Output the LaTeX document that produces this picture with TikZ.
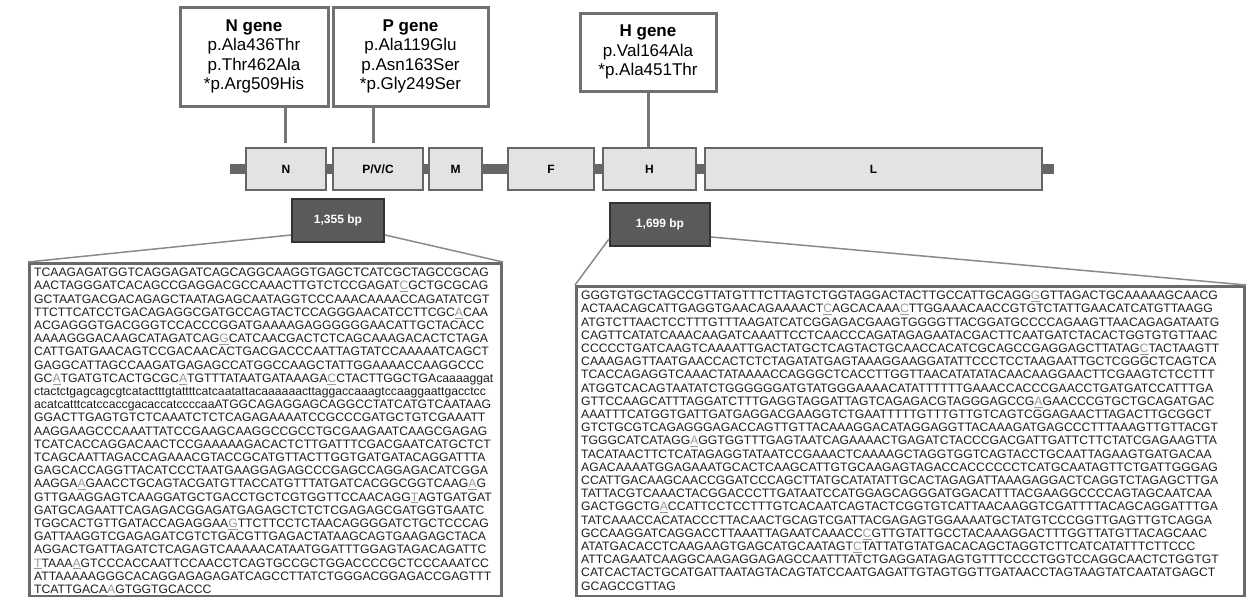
\documentclass[tikz,border=0pt]{standalone}
\usepackage{fontspec}
\setmainfont{Liberation Sans}
\definecolor{bordc}{HTML}{707070}
\definecolor{segbord}{HTML}{666666}
\definecolor{segfill}{HTML}{E3E3E3}
\definecolor{bpfill}{HTML}{5A5A5A}
\definecolor{bpbord}{HTML}{333333}
\definecolor{stemc}{HTML}{777777}
\definecolor{linkc}{HTML}{8A8A8A}
\definecolor{seqbord}{HTML}{6A6A6A}
\definecolor{seqc}{HTML}{1E1E1E}
\definecolor{mutc}{HTML}{9A9A9A}
\newcommand{\mk}[1]{\textcolor{mutc}{\underline{#1}}}
\tikzset{
 mutbox/.style={draw=bordc, line width=3pt, fill=white, align=center, inner sep=0pt, font=\fontsize{17}{19.6}\selectfont},
 seg/.style={draw=segbord, line width=2pt, fill=segfill, inner sep=0pt, minimum height=42pt, font=\bfseries\fontsize{12}{14}\selectfont},
 bpbox/.style={draw=bpbord, line width=2pt, fill=bpfill, text=white, inner sep=0pt, font=\bfseries\fontsize{12}{14}\selectfont},
 stem/.style={draw=stemc, line width=3pt},
 link/.style={draw=linkc, line width=1.5pt},
 seqbox/.style={draw=seqbord, line width=3pt, fill=white, inner sep=0pt},
 seqtext/.style={align=left, inner sep=0pt, text=seqc, font=\fontsize{12.2}{13.2}\selectfont},
}
\begin{document}
\begin{tikzpicture}[x=1pt,y=-1pt]
\useasboundingbox (0,0) rectangle (1248,597);
% backbone
\coordinate (bbL) at (230,169);
\coordinate (bbR) at (1054,169);
\draw[segbord, line width=10pt] (bbL) -- (bbR);
% genome segments
\node[seg, minimum width=80pt] (gN) at (286,169) {N};
\node[seg, minimum width=90pt] (gP) at (378,169) {P/V/C};
\node[seg, minimum width=53pt] (gM) at (455.5,169) {M};
\node[seg, minimum width=86pt] (gF) at (551,169) {F};
\node[seg, minimum width=93pt] (gH) at (649.5,169) {H};
\node[seg, minimum width=337pt] (gL) at (873.5,169) {L};
% mutation boxes
\node[mutbox, minimum width=148pt, minimum height=99pt] (mN) at (254,56.5) {\textbf{N gene}\\p.Ala436Thr\\p.Thr462Ala\\*p.Arg509His};
\node[mutbox, minimum width=155pt, minimum height=99pt] (mP) at (410.5,56.5) {\textbf{P gene}\\p.Ala119Glu\\p.Asn163Ser\\*p.Gly249Ser};
\node[mutbox, minimum width=136pt, minimum height=78pt] (mH) at (648,52) {\textbf{H gene}\\p.Val164Ala\\*p.Ala451Thr};
% stems
\draw[stem] ([xshift=-1pt]gN.north |- mN.south) -- ([xshift=-1pt,yshift=4pt]gN.north);
\draw[stem] ([xshift=-5pt]gP.north |- mP.south) -- ([xshift=-5pt,yshift=4pt]gP.north);
\draw[stem] (mH.south) -- (mH.south |- gH.north) ;
% bp boxes
\node[bpbox, minimum width=92pt, minimum height=43pt] (bp1) at (338,220.5) {1,355 bp};
\node[bpbox, minimum width=100pt, minimum height=43pt] (bp2) at (660,224.5) {1,699 bp};
% sequence boxes
\node[seqbox, anchor=north west, minimum width=472pt, minimum height=333pt] (lbox) at (28,262) {};
\node[seqbox, anchor=north west, minimum width=668pt, minimum height=310pt] (rbox) at (575,285) {};
\draw[link] ([yshift=8pt]bp1.south west) -- (lbox.north west);
\draw[link] ([yshift=8pt]bp1.south east) -- (lbox.north east);
\draw[link] ([yshift=8pt]bp2.south west) -- (rbox.north west);
\draw[link] ([yshift=10pt]bp2.south east) -- (rbox.north east);
\node[seqtext, anchor=north west] (ltext) at ([xshift=6pt,yshift=-6pt]lbox.north west) {%
TCAAGAGATGGTCAGGAGATCAGCAGGCAAGGTGAGCTCATCGCTAGCCGCAG\\
AACTAGGGATCACAGCCGAGGACGCCAAACTTGTCTCCGAGAT\mk{C}GCTGCGCAG\\
GCTAATGACGACAGAGCTAATAGAGCAATAGGTCCCAAACAAAACCAGATATCGT\\
TTCTTCATCCTGACAGAGGCGATGCCAGTACTCCAGGGAACATCCTTCGC\mk{A}CAA\\
ACGAGGGTGACGGGTCCACCCGGATGAAAAGAGGGGGGAACATTGCTACACC\\
AAAAGGGACAAGCATAGATCAG\mk{G}CATCAACGACTCTCAGCAAAGACACTCTAGA\\
CATTGATGAACAGTCCGACAACACTGACGACCCAATTAGTATCCAAAAATCAGCT\\
GAGGCATTAGCCAAGATGAGAGCCATGGCCAAGCTATTGGAAAACCAAGGCCC\\
GC\mk{A}TGATGTCACTGCGC\mk{A}TGTTTATAATGATAAAGA\mk{C}CTACTTGGCTGAcaaaaggat\\
ctactctgagcagcgtcatactttgtattttcatcaatattacaaaaaacttaggaccaaagtccaaggaattgacctcc\\
acatcatttcatccaccgacaccatccccaaATGGCAGAGGAGCAGGCCTATCATGTCAATAAG\\
GGACTTGAGTGTCTCAAATCTCTCAGAGAAAATCCGCCCGATGCTGTCGAAATT\\
AAGGAAGCCCAAATTATCCGAAGCAAGGCCGCCTGCGAAGAATCAAGCGAGAG\\
TCATCACCAGGACAACTCCGAAAAAGACACTCTTGATTTCGACGAATCATGCTCT\\
TCAGCAATTAGACCAGAAACGTACCGCATGTTACTTGGTGATGATACAGGATTTA\\
GAGCACCAGGTTACATCCCTAATGAAGGAGAGCCCGAGCCAGGAGACATCGGA\\
AAGGA\mk{A}GAACCTGCAGTACGATGTTACCATGTTTATGATCACGGCGGTCAAG\mk{A}G\\
GTTGAAGGAGTCAAGGATGCTGACCTGCTCGTGGTTCCAACAGG\mk{T}AGTGATGAT\\
GATGCAGAATTCAGAGACGGAGATGAGAGCTCTCTCGAGAGCGATGGTGAATC\\
TGGCACTGTTGATACCAGAGGAA\mk{G}TTCTTCCTCTAACAGGGGATCTGCTCCCAG\\
GATTAAGGTCGAGAGATCGTCTGACGTTGAGACTATAAGCAGTGAAGAGCTACA\\
AGGACTGATTAGATCTCAGAGTCAAAAACATAATGGATTTGGAGTAGACAGATTC\\
\mk{T}TAAA\mk{A}GTCCCACCAATTCCAACCTCAGTGCCGCTGGACCCCGCTCCCAAATCC\\
ATTAAAAAGGGCACAGGAGAGAGATCAGCCTTATCTGGGACGGAGACCGAGTTT\\
TCATTGACA\mk{A}GTGGTGCACCC};
\node[seqtext, anchor=north west] (rtext) at ([xshift=6pt,yshift=-6pt]rbox.north west) {%
GGGTGTGCTAGCCGTTATGTTTCTTAGTCTGGTAGGACTACTTGCCATTGCAGG\mk{G}GTTAGACTGCAAAAAGCAACG\\
ACTAACAGCATTGAGGTGAACAGAAAACT\mk{C}AGCACAAA\mk{C}TTGGAAACAACCGTGTCTATTGAACATCATGTTAAGG\\
ATGTCTTAACTCCTTTGTTTAAGATCATCGGAGACGAAGTGGGGTTACGGATGCCCCAGAAGTTAACAGAGATAATG\\
CAGTTCATATCAAACAAGATCAAATTCCTCAACCCAGATAGAGAATACGACTTCAATGATCTACACTGGTGTGTTAAC\\
CCCCCTGATCAAGTCAAAATTGACTATGCTCAGTACTGCAACCACATCGCAGCCGAGGAGCTTATAG\mk{C}TACTAAGTT\\
CAAAGAGTTAATGAACCACTCTCTAGATATGAGTAAAGGAAGGATATTCCCTCCTAAGAATTGCTCGGGCTCAGTCA\\
TCACCAGAGGTCAAACTATAAAACCAGGGCTCACCTTGGTTAACATATATACAACAAGGAACTTCGAAGTCTCCTTT\\
ATGGTCACAGTAATATCTGGGGGGATGTATGGGAAAACATATTTTTTGAAACCACCCGAACCTGATGATCCATTTGA\\
GTTCCAAGCATTTAGGATCTTTGAGGTAGGATTAGTCAGAGACGTAGGGAGCCG\mk{A}GAACCCGTGCTGCAGATGAC\\
AAATTTCATGGTGATTGATGAGGACGAAGGTCTGAATTTTTGTTTGTTGTCAGTCGGAGAACTTAGACTTGCGGCT\\
GTCTGCGTCAGAGGGAGACCAGTTGTTACAAAGGACATAGGAGGTTACAAAGATGAGCCCTTTAAAGTTGTTACGT\\
TGGGCATCATAGG\mk{A}GGTGGTTTGAGTAATCAGAAAACTGAGATCTACCCGACGATTGATTCTTCTATCGAGAAGTTA\\
TACATAACTTCTCATAGAGGTATAATCCGAAACTCAAAAGCTAGGTGGTCAGTACCTGCAATTAGAAGTGATGACAA\\
AGACAAAATGGAGAAATGCACTCAAGCATTGTGCAAGAGTAGACCACCCCCCTCATGCAATAGTTCTGATTGGGAG\\
CCATTGACAAGCAACCGGATCCCAGCTTATGCATATATTGCACTAGAGATTAAAGAGGACTCAGGTCTAGAGCTTGA\\
TATTACGTCAAACTACGGACCCTTGATAATCCATGGAGCAGGGATGGACATTTACGAAGGCCCCAGTAGCAATCAA\\
GACTGGCTG\mk{A}CCATTCCTCCTTTGTCACAATCAGTACTCGGTGTCATTAACAAGGTCGATTTTACAGCAGGATTTGA\\
TATCAAACCACATACCCTTACAACTGCAGTCGATTACGAGAGTGGAAAATGCTATGTCCCGGTTGAGTTGTCAGGA\\
GCCAAGGATCAGGACCTTAAATTAGAATCAAACC\mk{C}GTTGTATTGCCTACAAAGGACTTTGGTTATGTTACAGCAAC\\
ATATGACACCTCAAGAAGTGAGCATGCAATAGT\mk{C}TATTATGTATGACACAGCTAGGTCTTCATCATATTTCTTCCC\\
ATTCAGAATCAAGGCAAGAGGAGAGCCAATTTATCTGAGGATAGAGTGTTTCCCCTGGTCCAGGCAACTCTGGTGT\\
CATCACTACTGCATGATTAATAGTACAGTATCCAATGAGATTGTAGTGGTTGATAACCTAGTAAGTATCAATATGAGCT\\
GCAGCCGTTAG};
\end{tikzpicture}
\end{document}
